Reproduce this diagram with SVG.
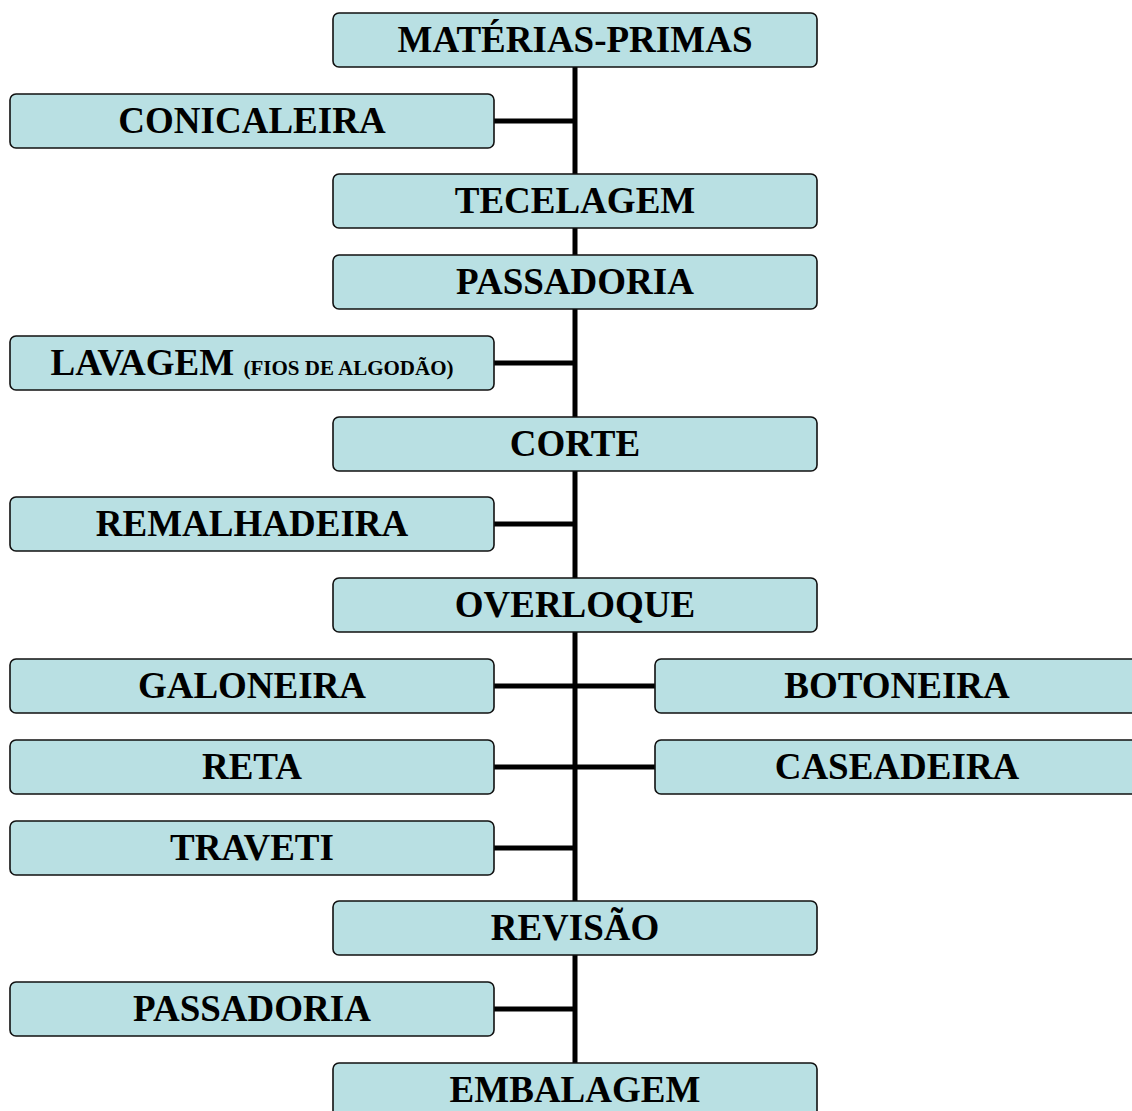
<svg xmlns="http://www.w3.org/2000/svg" width="1132" height="1111" viewBox="0 0 1132 1111">
<style>
.box{fill:#b9e0e3;stroke:#111;stroke-width:1.6}
.t{font-family:"Liberation Serif","Times New Roman",serif;font-weight:bold;font-size:37px;fill:#000;text-anchor:middle}
.s{font-size:21px}
.c{stroke:#000;stroke-width:5;fill:none}
</style>
<rect width="1132" height="1111" fill="#fff"/>
<g id="connectors">
<line class="c" x1="575" y1="66" x2="575" y2="1064"/>
<line class="c" x1="494" y1="121" x2="575" y2="121"/>
<line class="c" x1="494" y1="363" x2="575" y2="363"/>
<line class="c" x1="494" y1="524" x2="575" y2="524"/>
<line class="c" x1="494" y1="686" x2="655" y2="686"/>
<line class="c" x1="494" y1="767" x2="655" y2="767"/>
<line class="c" x1="494" y1="848" x2="575" y2="848"/>
<line class="c" x1="494" y1="1009" x2="575" y2="1009"/>
</g>
<g id="materias"><rect class="box" x="333" y="13" width="484" height="54" rx="6"/><text class="t" x="575" y="52">MATÉRIAS-PRIMAS</text></g>
<g id="conicaleira"><rect class="box" x="10" y="94" width="484" height="54" rx="6"/><text class="t" x="252" y="132.5">CONICALEIRA</text></g>
<g id="tecelagem"><rect class="box" x="333" y="174" width="484" height="54" rx="6"/><text class="t" x="575" y="213">TECELAGEM</text></g>
<g id="passadoria1"><rect class="box" x="333" y="255" width="484" height="54" rx="6"/><text class="t" x="575" y="293.5">PASSADORIA</text></g>
<g id="lavagem"><rect class="box" x="10" y="336" width="484" height="54" rx="6"/><text class="t" x="252" y="374.5">LAVAGEM <tspan class="s">(FIOS DE ALGODÃO)</tspan></text></g>
<g id="corte"><rect class="box" x="333" y="417" width="484" height="54" rx="6"/><text class="t" x="575" y="455.5">CORTE</text></g>
<g id="remalhadeira"><rect class="box" x="10" y="497" width="484" height="54" rx="6"/><text class="t" x="252" y="536">REMALHADEIRA</text></g>
<g id="overloque"><rect class="box" x="333" y="578" width="484" height="54" rx="6"/><text class="t" x="575" y="616.5">OVERLOQUE</text></g>
<g id="galoneira"><rect class="box" x="10" y="659" width="484" height="54" rx="6"/><text class="t" x="252" y="697.5">GALONEIRA</text></g>
<g id="botoneira"><rect class="box" x="655" y="659" width="484" height="54" rx="6"/><text class="t" x="897" y="697.5">BOTONEIRA</text></g>
<g id="reta"><rect class="box" x="10" y="740" width="484" height="54" rx="6"/><text class="t" x="252" y="778.5">RETA</text></g>
<g id="caseadeira"><rect class="box" x="655" y="740" width="484" height="54" rx="6"/><text class="t" x="897" y="778.5">CASEADEIRA</text></g>
<g id="traveti"><rect class="box" x="10" y="821" width="484" height="54" rx="6"/><text class="t" x="252" y="859.5">TRAVETI</text></g>
<g id="revisao"><rect class="box" x="333" y="901" width="484" height="54" rx="6"/><text class="t" x="575" y="940">REVISÃO</text></g>
<g id="passadoria2"><rect class="box" x="10" y="982" width="484" height="54" rx="6"/><text class="t" x="252" y="1021">PASSADORIA</text></g>
<g id="embalagem"><rect class="box" x="333" y="1063" width="484" height="54" rx="6"/><text class="t" x="575" y="1101.5">EMBALAGEM</text></g>
</svg>
